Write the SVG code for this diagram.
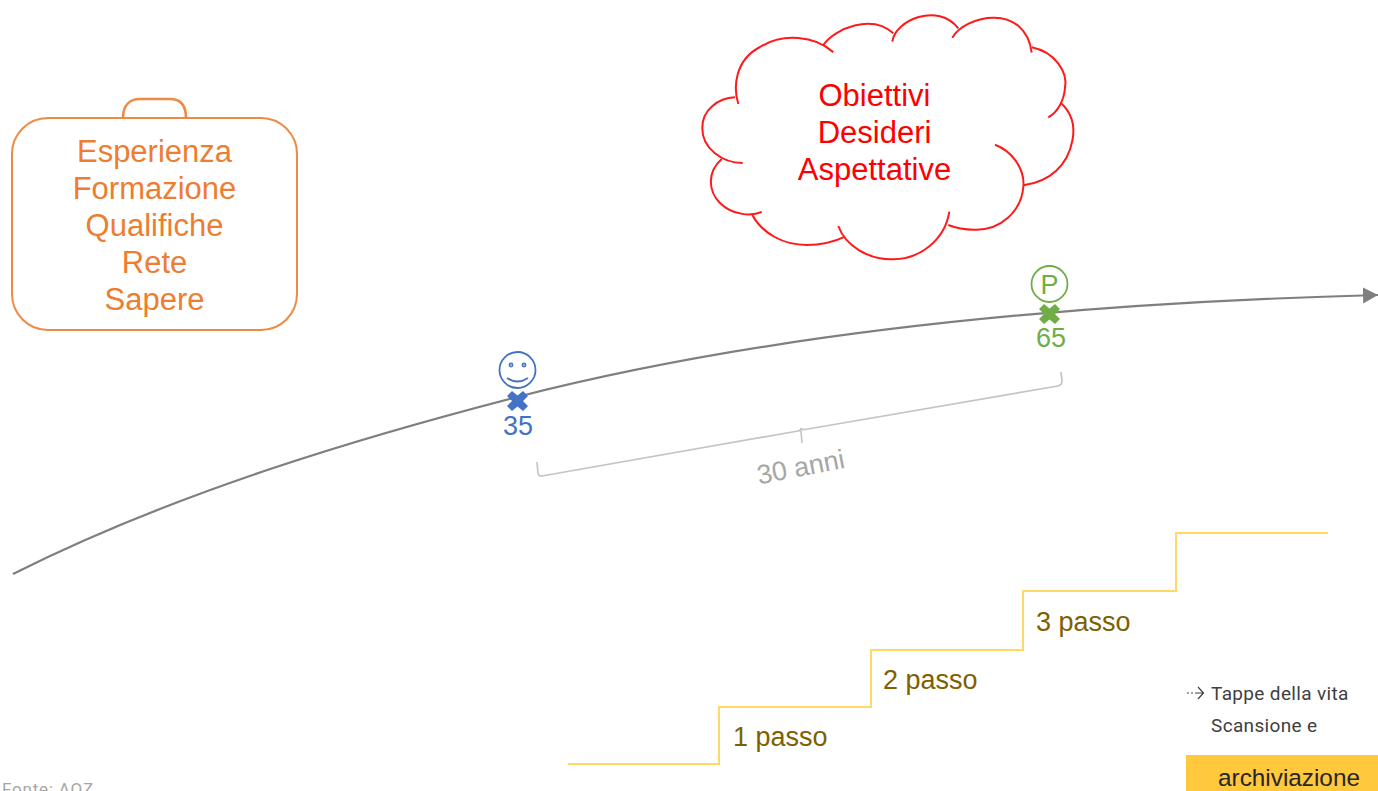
<svg xmlns="http://www.w3.org/2000/svg" width="1378" height="791" viewBox="0 0 1378 791">
<style>
text{font-family:"Liberation Sans",Arial,sans-serif}
.c{text-anchor:middle}
.o{font-size:31px;fill:#ed7d31}
.r{font-size:31px;fill:#ff0000}
.s{font-size:27px;fill:#7f6000}
.t{font-family:"Roboto","Liberation Sans",sans-serif;font-size:19px;fill:#404040;letter-spacing:.35px}
.cl{fill:none;stroke:#ff1a1a;stroke-width:2}
</style>
<defs>
<marker id="ah" markerUnits="userSpaceOnUse" markerWidth="16" markerHeight="18" refX="15" refY="8" orient="auto"><path d="M0 0L15 8L0 16Z" fill="#7f7f7f"/></marker>
</defs>
<rect width="1378" height="791" fill="#fff"/>
<g id="connectors">
<path id="life-line" d="M13 574C180 490 370 435 517 397C720 345 1000 305 1378 295" fill="none" stroke="#7f7f7f" stroke-width="2.2" marker-end="url(#ah)"/>
<path id="bracket" d="M537 462L538 473Q538.500 476.500 542 476L798 431Q801 430.500 801.500 428M801 430.500L802 443M801.500 428Q802 430 805 429.500L1058 386Q1062 385 1062 381L1061 372" fill="none" stroke="#c4c4c4" stroke-width="1.700"/>
<path id="steps" d="M568 764H719V707H871V650H1023V591H1176V533H1328" fill="none" stroke="#ffd966" stroke-width="2"/>
</g>
<g id="suitcase">
<path d="M123 118C123 105 130 99 140 99H170C180 99 186 105 186 118" fill="none" stroke="#ed7d31" stroke-width="2.600" opacity=".9"/>
<rect x="12" y="118" width="285" height="212" rx="36" fill="none" stroke="#ed7d31" stroke-width="2" opacity=".9"/>
<text class="o c" x="154.500" y="162">Esperienza</text>
<text class="o c" x="154.500" y="199">Formazione</text>
<text class="o c" x="154.500" y="236">Qualifiche</text>
<text class="o c" x="154.500" y="273">Rete</text>
<text class="o c" x="154.500" y="310">Sapere</text>
</g>
<g id="cloud">
<path class="cl" d="M738.3 104C733 87 735 60 760 47C782 33 815 35 833.3 52.3"/>
<path class="cl" d="M823.3 45C835 28 872 14 893.3 33.3"/>
<path class="cl" d="M892.3 41.7C895 20 938 2 958.3 28.3"/>
<path class="cl" d="M952.3 37.7C965 15 1025 2 1031.7 52.7"/>
<path class="cl" d="M1031.7 47.3C1055 52 1068 72 1065 88C1064 100 1058 112 1048.3 117.3"/>
<path class="cl" d="M1060.7 102.7C1072 113 1075 127 1072.500 140C1068 165 1050 182 1023.3 185.3"/>
<path class="cl" d="M995 144.700C1012 151 1024 168 1023.500 185C1022 212 1000 230 976 229.700C966 230 956 228 948.300 225"/>
<path class="cl" d="M949.300 211.700C945 240 920 259 893.300 259.300C868 260 845 245 838.300 226"/>
<path class="cl" d="M845 236.700C832 243 818 245 806.700 245C783 245 762 233 752.300 215"/>
<path class="cl" d="M761.700 212C752 216 733 216 720 203C708 191 707 172 721.700 159"/>
<path class="cl" d="M742.700 163C722 163 702 148 702.300 128C702 110 718 98 735 97.300"/>
<text class="r c" x="874.500" y="106">Obiettivi</text>
<text class="r c" x="874.500" y="143">Desideri</text>
<text class="r c" x="874.500" y="180">Aspettative</text>
</g>
<g id="age-35">
<circle cx="517.500" cy="370" r="18" fill="none" stroke="#4472c4" stroke-width="1.800"/>
<circle cx="511" cy="365" r="1.800" fill="#8faadc" stroke="#4472c4" stroke-width="1.200"/>
<circle cx="524" cy="365" r="1.800" fill="#8faadc" stroke="#4472c4" stroke-width="1.200"/>
<path d="M507 378Q517.500 385 528 378" fill="none" stroke="#4472c4" stroke-width="1.800"/>
<path d="M512 391L517.500 395.500L523 391L528 396L523 401L528 406L523 411L517.500 406.500L512 411L507 406L512 401L507 396Z" fill="#4472c4"/>
<text class="c" x="518" y="435" font-size="27" fill="#4472c4">35</text>
</g>
<g id="age-65">
<circle cx="1049.500" cy="284" r="18" fill="none" stroke="#70ad47" stroke-width="1.800"/>
<text class="c" x="1049.500" y="294" font-size="27" fill="#70ad47">P</text>
<path d="M1044 304L1049.500 308.500L1055 304L1060 309L1055 314L1060 319L1055 324L1049.500 319.500L1044 324L1039 319L1044 314L1039 309Z" fill="#70ad47"/>
<text class="c" x="1051" y="347" font-size="27" fill="#70ad47">65</text>
</g>
<text id="span-label" class="c" transform="translate(802.500 476) rotate(-11)" font-size="27" fill="#a6a6a6">30 anni</text>
<g id="step-labels">
<text class="s" x="733" y="746">1 passo</text>
<text class="s" x="883" y="689">2 passo</text>
<text class="s" x="1036" y="631">3 passo</text>
</g>
<g id="notes">
<path d="M1187 693H1189M1191 693H1193M1195 693H1203M1198 687L1203.500 693L1198 699" fill="none" stroke="#404040" stroke-width="1.200"/>
<text class="t" x="1211" y="700">Tappe della vita</text>
<text class="t" x="1211" y="732">Scansione e</text>
<rect x="1186" y="755" width="192" height="36" fill="#ffc83d"/>
<text class="c" x="1289" y="786" font-size="24.300" fill="#262626">archiviazione</text>
<text x="2" y="795" font-size="17" fill="#a6a6a6" letter-spacing=".8" style="font-family:Roboto,'Liberation Sans',sans-serif">Fonte: AOZ</text>
</g>
</svg>
